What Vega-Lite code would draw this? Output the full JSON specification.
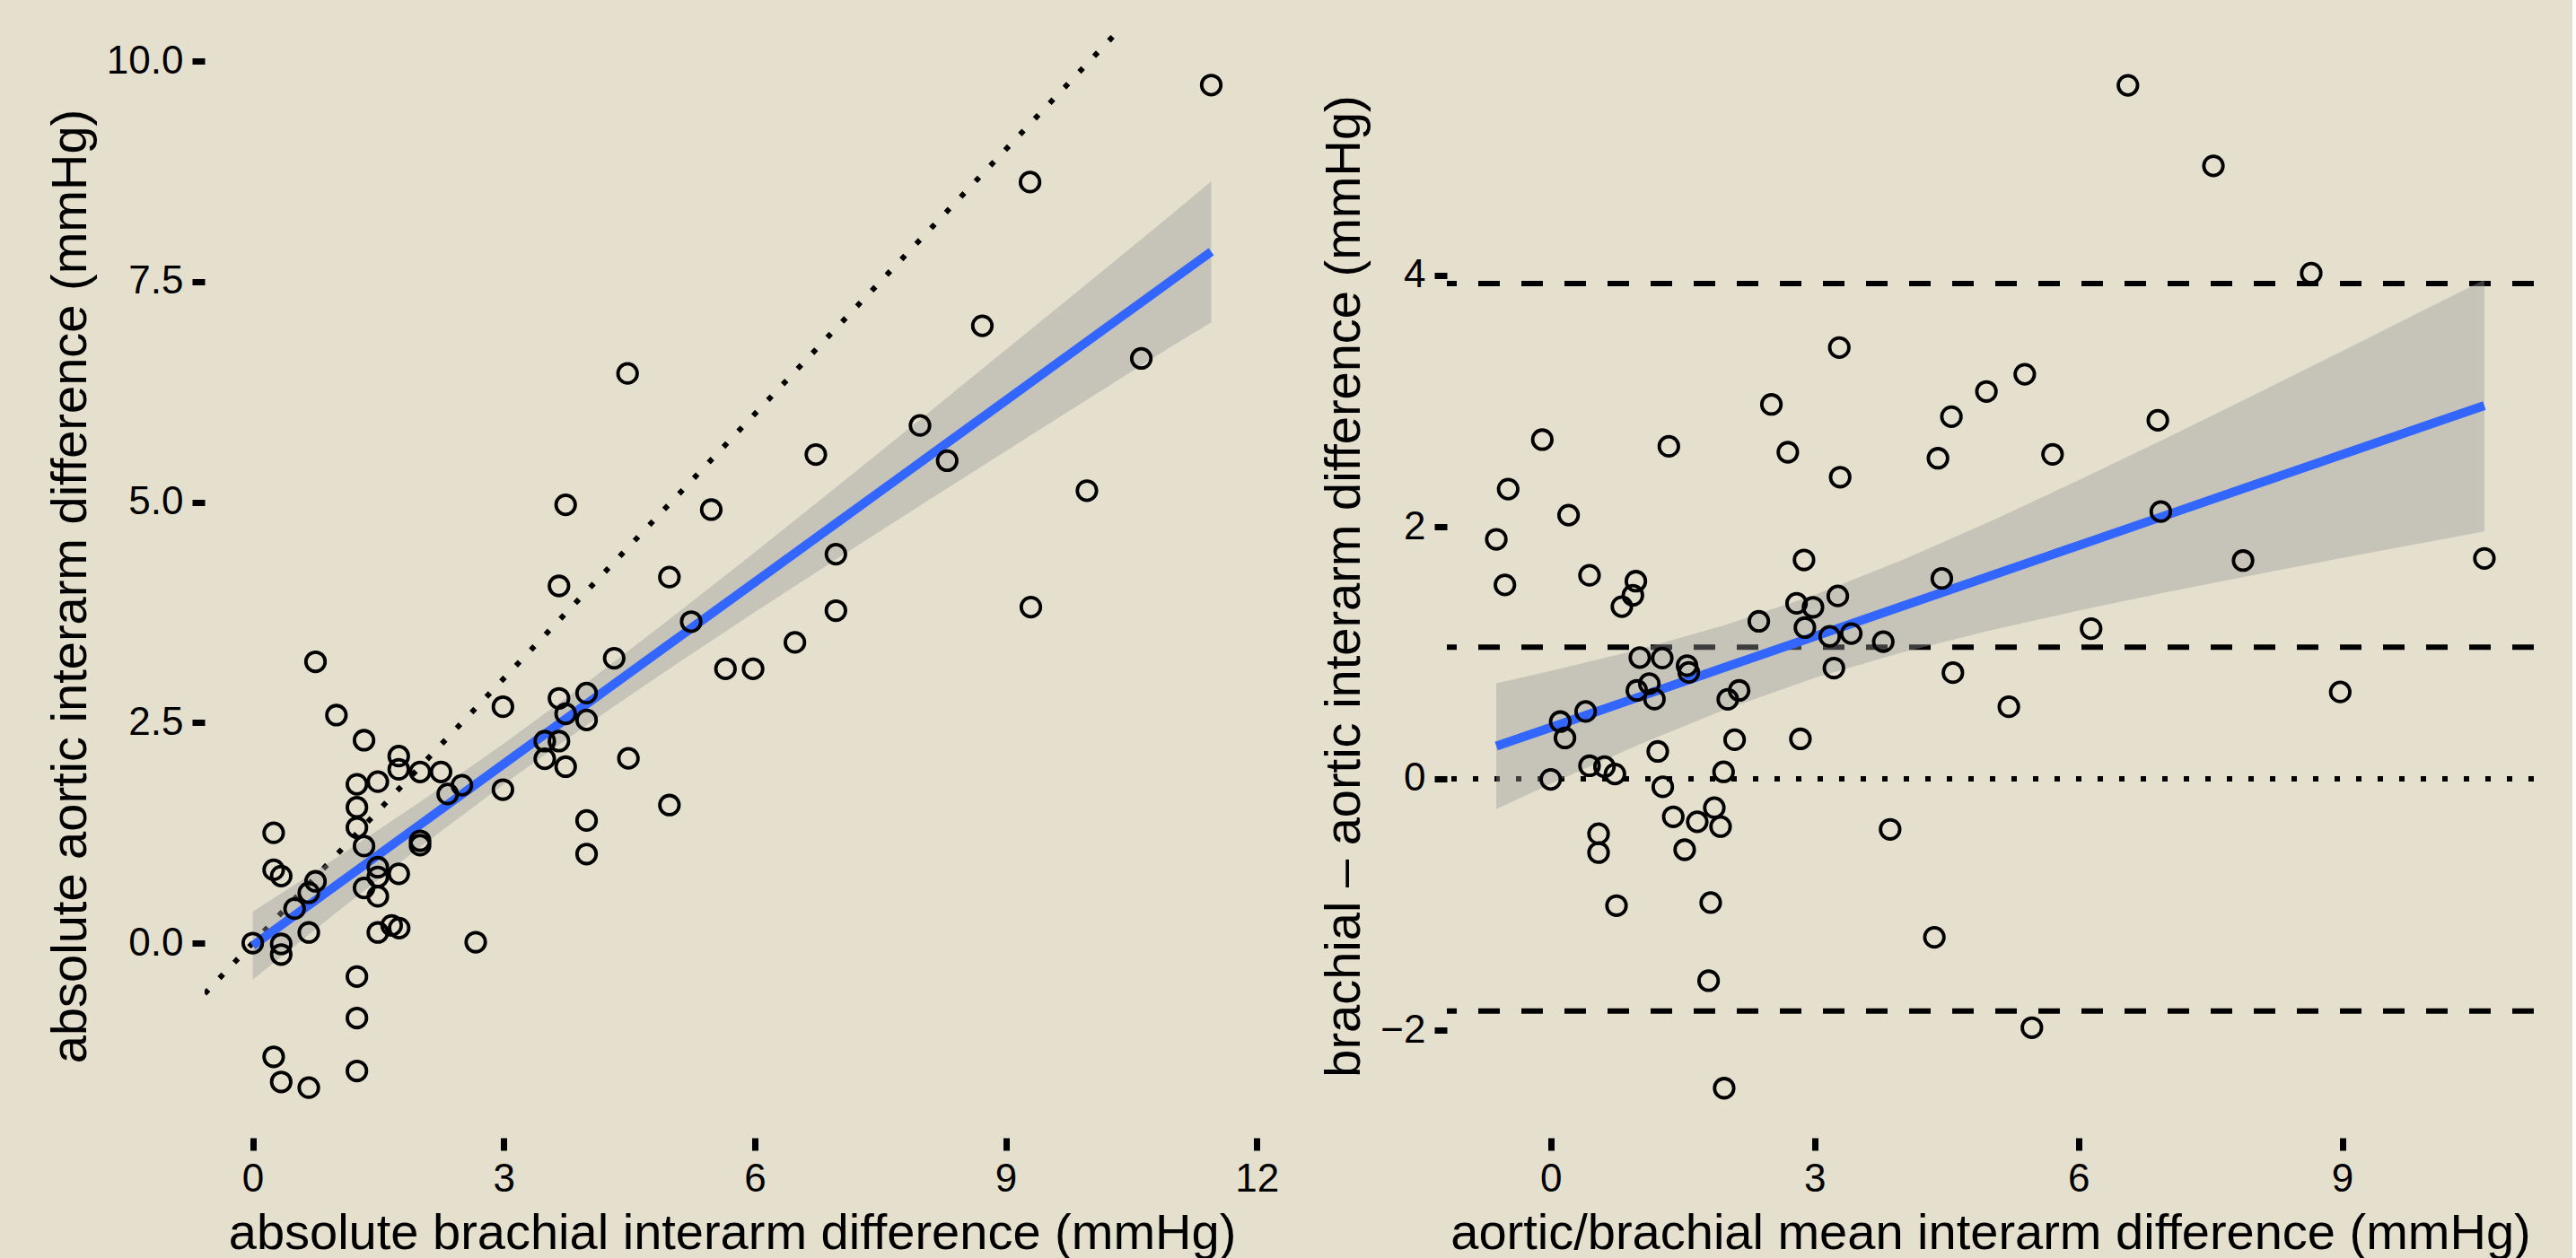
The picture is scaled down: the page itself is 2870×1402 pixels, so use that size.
{
  "$schema": "https://vega.github.io/schema/vega-lite/v6.json",
  "background": "#E5E0CE",
  "padding": {"left": 50, "top": 38, "right": 40, "bottom": 0},
  "spacing": 44,
  "config": {
    "view": {"stroke": null, "fill": null},
    "axis": {
      "domain": false, "grid": false, "ticks": true,
      "tickColor": "#000000", "tickSize": 14, "tickWidth": 7,
      "labelColor": "#000000", "labelFont": "Liberation Sans", "labelFontSize": 44, "labelPadding": 10,
      "titleFont": "Liberation Sans", "titleFontSize": 56, "titleFontWeight": "normal", "titleColor": "#000000", "titlePadding": 11
    }
  },
  "datasets": {
    "left": [
      {"a": 11.456, "b": 9.73}, {"a": 9.29, "b": 8.63}, {"a": 8.72, "b": 7.0}, {"a": 7.975, "b": 5.87},
      {"a": 8.3, "b": 5.47}, {"a": 6.73, "b": 5.54}, {"a": 9.97, "b": 5.13}, {"a": 10.62, "b": 6.63},
      {"a": 9.3, "b": 3.81}, {"a": 4.48, "b": 6.46}, {"a": 5.48, "b": 4.915}, {"a": 6.97, "b": 4.41},
      {"a": 6.97, "b": 3.77}, {"a": 6.48, "b": 3.41}, {"a": 5.65, "b": 3.11}, {"a": 5.98, "b": 3.11},
      {"a": 4.98, "b": 4.15}, {"a": 5.24, "b": 3.645}, {"a": 4.98, "b": 1.565}, {"a": 4.49, "b": 2.095},
      {"a": 4.32, "b": 3.23}, {"a": 3.99, "b": 1.39}, {"a": 3.99, "b": 1.01}, {"a": 3.99, "b": 2.835},
      {"a": 3.99, "b": 2.53}, {"a": 3.74, "b": 4.97}, {"a": 3.66, "b": 4.05}, {"a": 3.66, "b": 2.775},
      {"a": 3.74, "b": 2.6}, {"a": 3.49, "b": 2.29}, {"a": 3.66, "b": 2.29}, {"a": 3.49, "b": 2.09},
      {"a": 3.74, "b": 2.0}, {"a": 0.75, "b": 3.19}, {"a": 1.0, "b": 2.585}, {"a": 1.33, "b": 2.3},
      {"a": 1.745, "b": 2.12}, {"a": 1.745, "b": 1.97}, {"a": 1.495, "b": 1.83}, {"a": 1.245, "b": 1.8},
      {"a": 2.0, "b": 1.94}, {"a": 2.25, "b": 1.94}, {"a": 2.5, "b": 1.79}, {"a": 2.33, "b": 1.69},
      {"a": 2.99, "b": 2.68}, {"a": 2.99, "b": 1.74}, {"a": 1.245, "b": 1.54}, {"a": 1.245, "b": 1.31},
      {"a": 1.33, "b": 1.1}, {"a": 2.0, "b": 1.16}, {"a": 2.0, "b": 1.11}, {"a": 0.25, "b": 1.25},
      {"a": 0.25, "b": 0.83}, {"a": 0.34, "b": 0.76}, {"a": 0.75, "b": 0.7}, {"a": 0.67, "b": 0.57},
      {"a": 0.5, "b": 0.39}, {"a": 0.0, "b": 0.0}, {"a": 0.34, "b": -0.01}, {"a": 0.34, "b": -0.13},
      {"a": 0.67, "b": 0.12}, {"a": 1.495, "b": 0.86}, {"a": 1.495, "b": 0.75}, {"a": 1.745, "b": 0.785},
      {"a": 1.33, "b": 0.625}, {"a": 1.495, "b": 0.53}, {"a": 1.495, "b": 0.12}, {"a": 1.66, "b": 0.2},
      {"a": 1.75, "b": 0.17}, {"a": 2.665, "b": 0.01}, {"a": 1.245, "b": -0.38}, {"a": 1.245, "b": -0.85},
      {"a": 1.245, "b": -1.45}, {"a": 0.25, "b": -1.29}, {"a": 0.34, "b": -1.575}, {"a": 0.67, "b": -1.64}
    ],
    "leftfit": [
      {"x": 0, "fit": -0.03, "lo": -0.415, "hi": 0.355},
      {"x": 1, "fit": 0.657, "lo": 0.347, "hi": 0.967},
      {"x": 2, "fit": 1.344, "lo": 1.089, "hi": 1.599},
      {"x": 3, "fit": 2.031, "lo": 1.801, "hi": 2.261},
      {"x": 4, "fit": 2.718, "lo": 2.478, "hi": 2.958},
      {"x": 5, "fit": 3.405, "lo": 3.125, "hi": 3.685},
      {"x": 6, "fit": 4.092, "lo": 3.752, "hi": 4.432},
      {"x": 7, "fit": 4.779, "lo": 4.369, "hi": 5.189},
      {"x": 8, "fit": 5.466, "lo": 4.976, "hi": 5.956},
      {"x": 9, "fit": 6.153, "lo": 5.578, "hi": 6.728},
      {"x": 10, "fit": 6.84, "lo": 6.18, "hi": 7.5},
      {"x": 11, "fit": 7.527, "lo": 6.777, "hi": 8.277},
      {"x": 11.456, "fit": 7.84, "lo": 7.04, "hi": 8.64}
    ],
    "identity": [
      {"x": -0.575, "y": -0.575},
      {"x": 12.03, "y": 12.03}
    ],
    "right": [
      {"m": 3.281, "d": 3.427}, {"m": 2.509, "d": 2.975}, {"m": -0.096, "d": 2.695}, {"m": 1.343, "d": 2.642},
      {"m": 2.696, "d": 2.595}, {"m": 3.291, "d": 2.397}, {"m": -0.484, "d": 2.302}, {"m": 0.203, "d": 2.095},
      {"m": -0.619, "d": 1.903}, {"m": -0.521, "d": 1.541}, {"m": 0.441, "d": 1.617}, {"m": 0.968, "d": 1.57},
      {"m": 0.934, "d": 1.458}, {"m": 0.809, "d": 1.368}, {"m": 2.88, "d": 1.739}, {"m": 3.264, "d": 1.453},
      {"m": 2.795, "d": 1.394}, {"m": 2.982, "d": 1.363}, {"m": 2.366, "d": 1.251}, {"m": 2.89, "d": 1.201},
      {"m": 3.172, "d": 1.132}, {"m": 3.417, "d": 1.154}, {"m": 3.781, "d": 1.089}, {"m": 4.447, "d": 1.592},
      {"m": 4.403, "d": 2.547}, {"m": 4.556, "d": 2.878}, {"m": 3.22, "d": 0.88}, {"m": 1.013, "d": 0.963},
      {"m": 1.268, "d": 0.959}, {"m": 1.55, "d": 0.899}, {"m": 1.57, "d": 0.845}, {"m": 1.121, "d": 0.756},
      {"m": 0.979, "d": 0.702}, {"m": 1.179, "d": 0.633}, {"m": 2.142, "d": 0.702}, {"m": 2.013, "d": 0.631},
      {"m": 0.397, "d": 0.535}, {"m": 0.108, "d": 0.454}, {"m": 0.162, "d": 0.324}, {"m": 2.091, "d": 0.31},
      {"m": 2.839, "d": 0.317}, {"m": 1.217, "d": 0.217}, {"m": 0.441, "d": 0.103}, {"m": 0.611, "d": 0.096},
      {"m": 0.73, "d": 0.038}, {"m": 0.0, "d": -0.005}, {"m": 1.965, "d": 0.055}, {"m": 1.274, "d": -0.064},
      {"m": 1.393, "d": -0.302}, {"m": 1.666, "d": -0.342}, {"m": 1.86, "d": -0.23}, {"m": 1.931, "d": -0.38},
      {"m": 1.523, "d": -0.564}, {"m": 0.544, "d": -0.437}, {"m": 0.544, "d": -0.587}, {"m": 3.859, "d": -0.402},
      {"m": 0.748, "d": -1.008}, {"m": 1.819, "d": -0.984}, {"m": 4.362, "d": -1.26}, {"m": 1.795, "d": -1.605},
      {"m": 1.972, "d": -2.459}, {"m": 8.647, "d": 4.018}, {"m": 5.39, "d": 3.215}, {"m": 4.954, "d": 3.078},
      {"m": 5.706, "d": 2.578}, {"m": 6.903, "d": 2.849}, {"m": 6.937, "d": 2.123}, {"m": 7.872, "d": 1.734},
      {"m": 6.144, "d": 1.193}, {"m": 4.573, "d": 0.843}, {"m": 5.209, "d": 0.572}, {"m": 8.977, "d": 0.69},
      {"m": 6.563, "d": 5.511}, {"m": 7.535, "d": 4.871}, {"m": 10.616, "d": 1.751}, {"m": 5.471, "d": -1.978}
    ],
    "rightfit": [
      {"x": -0.619, "fit": 0.259, "lo": -0.241, "hi": 0.759},
      {"x": 0, "fit": 0.408, "lo": -0.04, "hi": 0.856},
      {"x": 1, "fit": 0.649, "lo": 0.271, "hi": 1.027},
      {"x": 2, "fit": 0.89, "lo": 0.555, "hi": 1.225},
      {"x": 3, "fit": 1.131, "lo": 0.801, "hi": 1.461},
      {"x": 4, "fit": 1.372, "lo": 1.005, "hi": 1.739},
      {"x": 5, "fit": 1.613, "lo": 1.18, "hi": 2.046},
      {"x": 6, "fit": 1.854, "lo": 1.336, "hi": 2.372},
      {"x": 7, "fit": 2.095, "lo": 1.482, "hi": 2.708},
      {"x": 8, "fit": 2.336, "lo": 1.62, "hi": 3.052},
      {"x": 9, "fit": 2.577, "lo": 1.755, "hi": 3.399},
      {"x": 10, "fit": 2.818, "lo": 1.886, "hi": 3.75},
      {"x": 10.616, "fit": 2.966, "lo": 1.966, "hi": 3.966}
    ],
    "hlines": [
      {"y": 3.935, "kind": "dashed"},
      {"y": 1.045, "kind": "dashed"},
      {"y": -1.845, "kind": "dashed"},
      {"y": 0, "kind": "dotted"}
    ]
  },
  "hconcat": [
    {
      "width": 1175,
      "height": 1230,
      "layer": [
        {
          "data": {"name": "identity"},
          "mark": {"type": "line", "clip": true, "color": "#000000", "strokeWidth": 6, "strokeDash": [6, 18], "strokeCap": "butt"},
          "encoding": {
            "x": {"field": "x", "type": "quantitative", "scale": {"domain": [-0.575, 12.03], "nice": false, "zero": false}},
            "y": {"field": "y", "type": "quantitative", "scale": {"domain": [-2.208, 10.308], "nice": false, "zero": false}}
          }
        },
        {
          "data": {"name": "leftfit"},
          "mark": {"type": "area", "fill": "#999999", "opacity": 0.4},
          "encoding": {
            "x": {"field": "x", "type": "quantitative"},
            "y": {"field": "lo", "type": "quantitative"},
            "y2": {"field": "hi"}
          }
        },
        {
          "data": {"name": "leftfit"},
          "mark": {"type": "line", "color": "#3366FF", "strokeWidth": 10},
          "encoding": {
            "x": {"field": "x", "type": "quantitative"},
            "y": {"field": "fit", "type": "quantitative"}
          }
        },
        {
          "data": {"name": "left"},
          "mark": {"type": "point", "shape": "circle", "filled": false, "stroke": "#000000", "strokeWidth": 3.8, "size": 460, "opacity": 1},
          "encoding": {
            "x": {"field": "a", "type": "quantitative", "title": "absolute brachial interarm difference (mmHg)",
                  "axis": {"values": [0, 3, 6, 9, 12], "format": "d"}},
            "y": {"field": "b", "type": "quantitative", "title": "absolute aortic interarm difference (mmHg)",
                  "axis": {"values": [0, 2.5, 5, 7.5, 10], "format": ".1f"}}
          }
        }
      ]
    },
    {
      "width": 1211,
      "height": 1230,
      "layer": [
        {
          "data": {"name": "hlines"},
          "mark": {"type": "rule", "color": "#000000", "strokeWidth": 6, "strokeCap": "butt"},
          "encoding": {
            "y": {"field": "y", "type": "quantitative", "scale": {"domain": [-2.853, 5.918], "nice": false, "zero": false}},
            "strokeDash": {"field": "kind", "type": "nominal", "scale": {"domain": ["dashed", "dotted"], "range": [[24, 24], [6, 18]]}, "legend": null}
          }
        },
        {
          "data": {"name": "rightfit"},
          "mark": {"type": "area", "fill": "#999999", "opacity": 0.4},
          "encoding": {
            "x": {"field": "x", "type": "quantitative", "scale": {"domain": [-1.181, 11.178], "nice": false, "zero": false}},
            "y": {"field": "lo", "type": "quantitative"},
            "y2": {"field": "hi"}
          }
        },
        {
          "data": {"name": "rightfit"},
          "mark": {"type": "line", "color": "#3366FF", "strokeWidth": 10},
          "encoding": {
            "x": {"field": "x", "type": "quantitative"},
            "y": {"field": "fit", "type": "quantitative"}
          }
        },
        {
          "data": {"name": "right"},
          "mark": {"type": "point", "shape": "circle", "filled": false, "stroke": "#000000", "strokeWidth": 3.8, "size": 460, "opacity": 1},
          "encoding": {
            "x": {"field": "m", "type": "quantitative", "title": "aortic/brachial mean interarm difference (mmHg)",
                  "axis": {"values": [0, 3, 6, 9], "format": "d"}},
            "y": {"field": "d", "type": "quantitative", "title": "brachial – aortic interarm difference (mmHg)",
                  "axis": {"values": [-2, 0, 2, 4], "format": "d"}}
          }
        }
      ]
    }
  ]
}
